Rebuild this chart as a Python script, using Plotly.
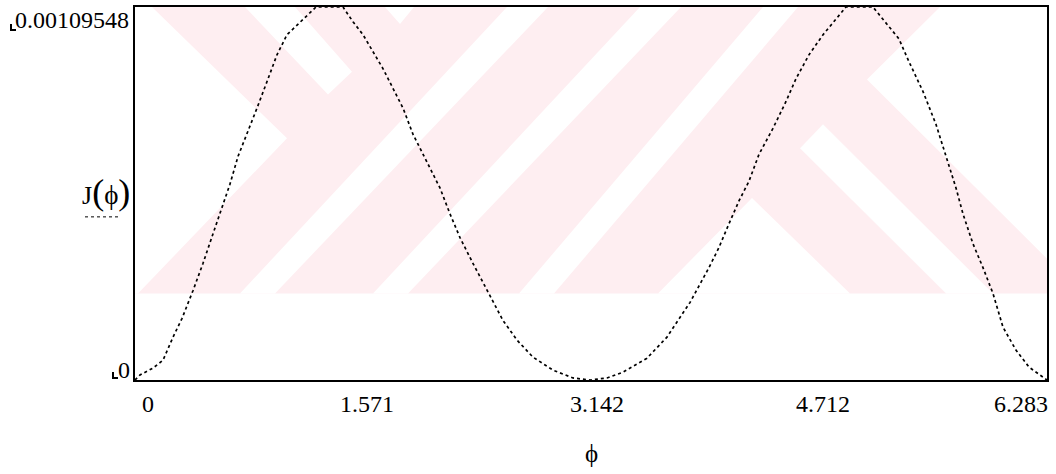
import plotly.graph_objects as go

# ---- data ----
phi = [0.0, 0.034, 0.124, 0.193, 0.262, 0.324, 0.400, 0.468, 0.537, 0.599, 0.654,
       0.710, 0.772, 0.840, 0.909, 0.978, 1.047, 1.137, 1.247, 1.433, 1.502, 1.571,
       1.640, 1.709, 1.778, 1.847, 1.915, 1.998, 2.101, 2.170, 2.239, 2.329, 2.425,
       2.535, 2.632, 2.742, 2.880, 3.017, 3.135, 3.252, 3.362, 3.527, 3.665, 3.824,
       3.954, 4.023, 4.092, 4.161, 4.230, 4.299, 4.395, 4.485, 4.554, 4.643, 4.740,
       4.898, 5.084, 5.263, 5.332, 5.429, 5.518, 5.587, 5.656, 5.704, 5.773, 5.842,
       5.911, 5.980, 6.069, 6.159, 6.262, 6.283]
J = [0.0, 1.46e-5, 3.5e-5, 5.8e-5, 1.26e-4, 1.81e-4, 2.63e-4, 3.42e-4, 4.29e-4, 5.05e-4, 5.75e-4,
     6.57e-4, 7.22e-4, 7.98e-4, 8.76e-4, 9.55e-4, 1.014e-3, 1.052e-3, 1.09548e-3, 1.09548e-3, 1.052e-3, 1.014e-3,
     9.64e-4, 9.14e-4, 8.56e-4, 7.98e-4, 7.22e-4, 6.51e-4, 5.64e-4, 4.88e-4, 4.18e-4, 3.42e-4, 2.63e-4,
     1.75e-4, 1.17e-4, 6.7e-5, 2.9e-5, 6e-6, 0.0, 6e-6, 2.3e-5, 6.4e-5, 1.26e-4, 2.28e-4,
     3.30e-4, 3.89e-4, 4.59e-4, 5.26e-4, 5.84e-4, 6.63e-4, 7.39e-4, 8.18e-4, 8.85e-4, 9.55e-4, 1.014e-3,
     1.09548e-3, 1.09548e-3, 1.002e-3, 9.35e-4, 8.47e-4, 7.51e-4, 6.57e-4, 5.64e-4, 4.88e-4, 4.00e-4, 3.30e-4,
     2.54e-4, 1.55e-4, 8.8e-5, 3.8e-5, 6e-6, 0.0]

x_ticks = [0, 1.571, 3.142, 4.712, 6.283]
x_tick_labels = ["0", "1.571", "3.142", "4.712", "6.283"]
y_min_label = "0"
y_max_label = "0.00109548"
y_max = 0.00109548
x_max = 6.283

# ---- page geometry ----
W, H = 1056, 474
L, R, T, B = 135, 1047, 5, 380   # plot area in pixels


def px(x):
    return (x - L) / (R - L)


def py(y):
    return (B - y) / (B - T)


def poly(pts):
    return "M " + " L ".join(f"{px(a):.5f},{py(b):.5f}" for a, b in pts) + " Z"


PINK = "#FEEEF1"
shapes = []
# watermark (light pink background logo)
shapes.append(dict(type="rect", xref="paper", yref="paper", x0=px(135), x1=px(1047),
                   y0=py(293), y1=py(5), fillcolor=PINK, line_width=0, layer="below"))
white_polys = [
    [(135, 5), (152, 5), (287, 137), (138, 293), (135, 293)],
    [(245, 5), (295, 5), (352, 70), (328, 93)],
    [(385, 5), (414, 5), (400, 22)],
    [(240, 293), (275, 293), (548, 5), (507, 5)],
    [(373, 293), (408, 293), (681, 5), (640, 5)],
    [(519, 293), (554, 293), (798, 5), (763, 5)],
    [(940, 5), (1047, 5), (1047, 258), (867, 78)],
    [(800, 147), (823, 123), (993, 293), (946, 293)],
    [(752, 197), (850, 293), (658, 293)],
]
for p in white_polys:
    shapes.append(dict(type="path", xref="paper", yref="paper", path=poly(p),
                       fillcolor="white", line_width=0, layer="below"))

# dashed legend line under J(phi)
shapes.append(dict(type="line", xref="paper", yref="paper", x0=px(85), x1=px(118),
                   y0=py(216), y1=py(216), line=dict(color="black", width=1, dash="3px,3px")))
# small Mathcad corner marks next to the limit labels
for (x0, y0) in [(11, 22), (113, 372)]:
    shapes.append(dict(type="path", xref="paper", yref="paper",
                       path=f"M {px(x0):.5f},{py(y0):.5f} L {px(x0):.5f},{py(y0+6):.5f} L {px(x0+5):.5f},{py(y0+6):.5f}",
                       line=dict(color="black", width=2)))

fig = go.Figure()
fig.add_trace(go.Scatter(x=phi, y=J, mode="lines",
                         line=dict(color="black", width=1.7, dash="dot"),
                         hoverinfo="skip", showlegend=False))

FONT = "Liberation Serif"
ann = []
# label placement in pixels: (anchor pixel x, xanchor)
label_pos = [(140, "left"), (367, "center"), (597, "center"), (823, "center"), (1050, "right")]
for t, (lx, a) in zip(x_tick_labels, label_pos):
    ann.append(dict(x=px(lx), xref="paper", y=py(404), yref="paper", text=t, showarrow=False,
                    xanchor=a, yanchor="middle",
                    font=dict(family=FONT, size=24, color="black")))
ann.append(dict(x=px(131), xref="paper", y=py(18), yref="paper", text=y_max_label,
                showarrow=False, xanchor="right", yanchor="middle",
                font=dict(family=FONT, size=24, color="black")))
ann.append(dict(x=px(132), xref="paper", y=py(370), yref="paper", text=y_min_label,
                showarrow=False, xanchor="right", yanchor="middle",
                font=dict(family=FONT, size=24, color="black")))
ann.append(dict(x=px(106), xref="paper", y=py(191), yref="paper",
                text="J<span style='font-size:36px'>(</span><span style='font-size:27px'>ϕ</span><span style='font-size:36px'>)</span>",
                showarrow=False, xanchor="center", yanchor="middle",
                font=dict(family=FONT, size=26, color="black")))
ann.append(dict(x=px(591), xref="paper", y=py(454), yref="paper", text="ϕ",
                showarrow=False, xanchor="center", yanchor="middle",
                font=dict(family=FONT, size=25, color="black")))

fig.update_layout(
    width=W, height=H,
    margin=dict(l=L, r=W - R, t=T, b=H - B, pad=0),
    paper_bgcolor="white", plot_bgcolor="rgba(0,0,0,0)",
    shapes=shapes, annotations=ann,
    xaxis=dict(range=[0, x_max], showgrid=False, zeroline=False, showticklabels=False,
               ticks="", showline=True, linecolor="black", linewidth=2, mirror=True),
    yaxis=dict(range=[0, y_max], showgrid=False, zeroline=False, showticklabels=False,
               ticks="", showline=True, linecolor="black", linewidth=2, mirror=True),
)

fig.write_html("out.html", config={"displayModeBar": False},
               post_script="document.body.style.margin='0';document.body.style.overflow='hidden';")
